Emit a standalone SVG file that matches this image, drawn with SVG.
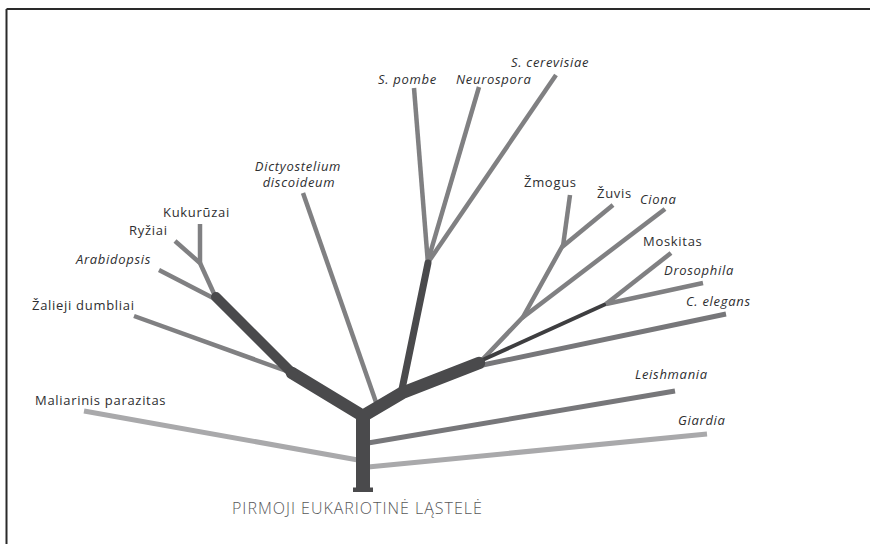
<svg xmlns="http://www.w3.org/2000/svg" width="870" height="544" viewBox="0 0 870 544">
<style>
.lbl{font-family:"Open Sans","Noto Sans","Liberation Sans",sans-serif;font-size:13px;fill:#2e2e30;letter-spacing:0.7px}
.it{font-style:italic}
.root{font-family:"Open Sans","Noto Sans","Liberation Sans",sans-serif;font-size:16px;font-weight:300;fill:#58585a;letter-spacing:1px}
.mid{stroke:#808082;stroke-width:4.5;fill:none;stroke-linecap:butt}
.lt{stroke:#a9a9ab;stroke-width:5;fill:none}
.md2{stroke:#77777a;stroke-width:5;fill:none}
.dk{stroke:#4a4a4c;fill:none;stroke-linejoin:round;stroke-linecap:round}
</style>
<rect width="870" height="544" fill="#fff"/>
<g id="frame">
<line x1="6.5" y1="9" x2="870" y2="9" stroke="#2a2a2a" stroke-width="2"/>
<line x1="6.5" y1="9" x2="6.5" y2="544" stroke="#2a2a2a" stroke-width="2"/>
</g>
<g id="connectors">
<line class="lt" x1="84" y1="411" x2="358" y2="460"/>
<line class="lt" x1="368" y1="467" x2="707" y2="434"/>
<line class="md2" x1="368" y1="443" x2="675" y2="391"/>
<line class="mid" x1="134" y1="316" x2="292" y2="373"/>
<line class="mid" x1="159" y1="270" x2="217" y2="300"/>
<line class="mid" x1="216" y1="298" x2="200" y2="263"/>
<line class="mid" x1="175" y1="241" x2="200" y2="263"/>
<line class="mid" x1="200" y1="224" x2="200" y2="264"/>
<line class="mid" x1="303" y1="193" x2="377" y2="405"/>
<line class="mid" x1="414" y1="88" x2="428" y2="264"/>
<line class="mid" x1="479" y1="87" x2="427" y2="264"/>
<line class="mid" x1="556" y1="75" x2="427" y2="264"/>
<line class="md2" x1="478" y1="366" x2="726" y2="314"/>
<polyline class="mid" points="482,360 523,317 563,245"/>
<line class="mid" x1="563" y1="246" x2="570" y2="195"/>
<line class="mid" x1="562" y1="247" x2="613" y2="205"/>
<line class="mid" x1="522" y1="318" x2="665" y2="209"/>
<line x1="478" y1="362" x2="608" y2="303" stroke-width="4" stroke="#3e3e40"/>
<line class="mid" x1="606" y1="304" x2="671" y2="253"/>
<line class="mid" x1="606" y1="304" x2="703" y2="283" stroke-width="5"/>
<line class="dk" x1="401" y1="394" x2="428" y2="263" stroke-width="7" stroke-linecap="butt"/>
<line class="dk" x1="292" y1="373" x2="216" y2="297" stroke-width="10" stroke-linecap="butt"/>
<polyline class="dk" points="292,373 363,416 402,393 479,363" stroke-width="12.5" stroke-linejoin="round" stroke-linecap="butt"/>
<circle cx="292" cy="373" r="5.5" fill="#4a4a4c"/>
<line x1="363" y1="412" x2="363" y2="490" stroke="#4a4a4c" stroke-width="14"/>
<rect x="353" y="487.5" width="20" height="4.5" fill="#4a4a4c"/>
</g>
<g id="n-kukuruzai"><text class="lbl" x="163" y="217">Kukurūzai</text></g>
<g id="n-ryziai"><text class="lbl" x="129" y="235">Ryžiai</text></g>
<g id="n-arabidopsis"><text class="lbl it" x="76" y="264">Arabidopsis</text></g>
<g id="n-zalieji"><text class="lbl" x="32" y="310">Žalieji dumbliai</text></g>
<g id="n-maliarinis"><text class="lbl" x="35" y="405">Maliarinis parazitas</text></g>
<g id="n-dictyostelium"><text class="lbl it" text-anchor="middle" x="298" y="170.5">Dictyostelium</text><text class="lbl it" text-anchor="middle" x="299" y="187">discoideum</text></g>
<g id="n-spombe"><text class="lbl it" x="378" y="84">S. pombe</text></g>
<g id="n-neurospora"><text class="lbl it" x="456" y="84">Neurospora</text></g>
<g id="n-scerevisiae"><text class="lbl it" x="511" y="67">S. cerevisiae</text></g>
<g id="n-zmogus"><text class="lbl" x="524" y="187">Žmogus</text></g>
<g id="n-zuvis"><text class="lbl" x="597" y="198">Žuvis</text></g>
<g id="n-ciona"><text class="lbl it" x="640" y="204">Ciona</text></g>
<g id="n-moskitas"><text class="lbl" x="643" y="246">Moskitas</text></g>
<g id="n-drosophila"><text class="lbl it" x="664" y="275">Drosophila</text></g>
<g id="n-celegans"><text class="lbl it" x="686" y="306">C. elegans</text></g>
<g id="n-leishmania"><text class="lbl it" x="635" y="379">Leishmania</text></g>
<g id="n-giardia"><text class="lbl it" x="678" y="425">Giardia</text></g>
<g id="n-root"><text class="root" x="232" y="514">PIRMOJI EUKARIOTINĖ LĄSTELĖ</text></g>
</svg>
